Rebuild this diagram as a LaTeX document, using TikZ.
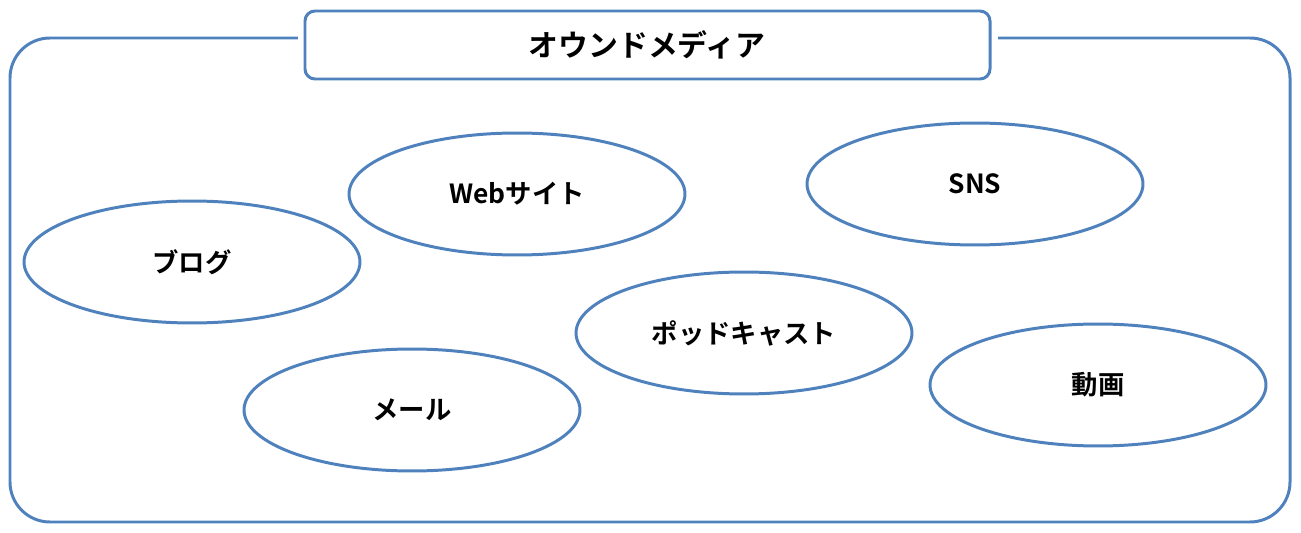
\documentclass[tikz,border=0pt]{standalone}
\usepackage{fontspec}
\newfontfamily\jpfont{Noto Sans CJK JP}[BoldFont={* Bold}]
\usetikzlibrary{shapes.geometric}
\definecolor{frameblue}{RGB}{79,129,189}
\tikzset{
  media/.style={ellipse, draw=frameblue, line width=1.7pt, minimum width=6.72cm,
    minimum height=2.44cm, font=\jpfont\bfseries\fontsize{15}{18}\selectfont},
}

\begin{document}
\begin{tikzpicture}[x=0.02cm,y=-0.02cm]
    \useasboundingbox (0,0) rectangle (1301,533);

    \draw[frameblue, line width=1.7pt, rounded corners=0.8cm] (10,38) rectangle (1290,522);
    \fill[white] (298,20) rectangle (998,60);
    \draw[frameblue, line width=1.7pt, fill=white, rounded corners=0.2cm] (305,11) rectangle (990,79);
    \node[font=\jpfont\bfseries\fontsize{17}{20}\selectfont] (title) at (647,45) {オウンドメディア};

    \node[media] (blog) at (192,262) {ブログ};
    \node[media] (web) at (517,194) {Webサイト};
    \node[media] (sns) at (975,184) {SNS};
    \node[media] (podcast) at (744,333) {ポッドキャスト};
    \node[media] (mail) at (412,410) {メール};
    \node[media] (video) at (1098,385) {動画};
\end{tikzpicture}
\end{document}
